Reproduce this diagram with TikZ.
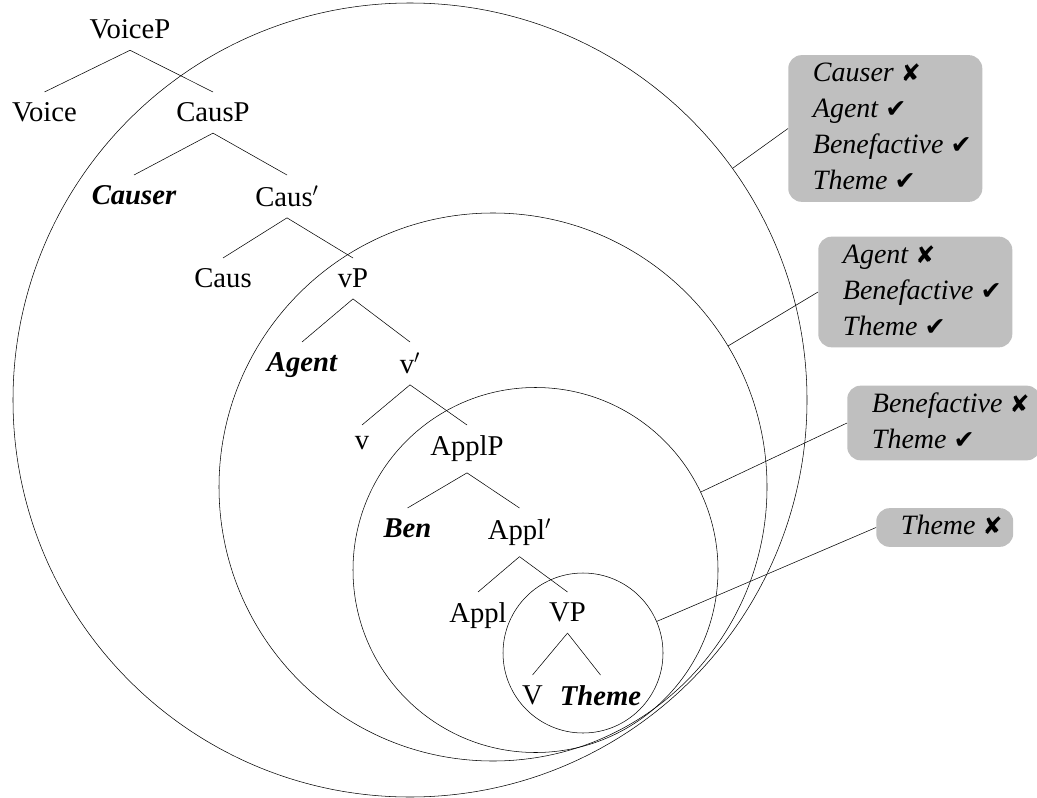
\documentclass[tikz,border=0pt]{standalone}
\usepackage{fontspec}
\setmainfont{Liberation Serif}
\newfontfamily\markfont{DejaVu Sans}
\newcommand{\ok}{{\upshape\markfont\scalebox{0.9}{✔}}}
\newcommand{\bad}{{\upshape\markfont\scalebox{0.85}{✘}}}
\tikzset{
  cat/.style={anchor=north, inner sep=8pt, font=\fontsize{21.5}{24}\selectfont},
  arg/.style={cat, font=\fontsize{21.5}{24}\selectfont\bfseries\itshape},
  ring/.style={draw, circle, inner sep=0pt},
  note/.style={anchor=west, fill=black!25, rounded corners=10pt, inner xsep=8pt, inner ysep=1pt,
    font=\fontsize{21}{27}\selectfont\itshape}
}
\begin{document}
\begin{tikzpicture}[x=0.75pt, y=-0.75pt]
\useasboundingbox (0,0) rectangle (1037,798);
% the tree
\node[cat] (voicep) at (130,9) {VoiceP};
\node[cat] (voice) at (44.5,92) {Voice};
\node[cat] (causp) at (213,92) {CausP};
\node[arg] (causer) at (134,175) {Causer};
\node[cat] (causbar) at (287,175) {Caus$'$};
\node[cat] (caus) at (223,258) {Caus};
\node[cat] (vp) at (353,258) {vP};
\node[arg] (agent) at (302,342) {Agent};
\node[cat] (vbar) at (410,342) {v$'$};
\node[cat] (v) at (362,425) {v};
\node[cat] (applp) at (467,425) {ApplP};
\node[arg] (ben) at (407.5,508) {Ben};
\node[cat] (applbar) at (519.5,508) {Appl$'$};
\node[cat] (appl) at (478,592) {Appl};
\node[cat] (bigvp) at (567.5,592) {VP};
\node[cat] (verb) at (532.5,675) {V};
\node[arg] (theme) at (600.5,675) {Theme};
\foreach \p/\c in {voicep/voice, voicep/causp, causp/causer, causp/causbar,
  causbar/caus, causbar/vp, vp/agent, vp/vbar, vbar/v, vbar/applp,
  applp/ben, applp/applbar, applbar/appl, applbar/bigvp, bigvp/verb, bigvp/theme}
  \draw (\p.south) -- (\c.north);
% nested domains
\node[ring, minimum size=595.5pt] (c1) at (410,400) {};
\node[ring, minimum size=411pt] (c2) at (493,487) {};
\node[ring, minimum size=273.75pt] (c3) at (535.5,570) {};
\node[ring, minimum size=120pt] (c4) at (583,653) {};
% what each domain allows
\node[note] (n1) at (788,128.5) {\begin{tabular}{@{\hspace{10.5pt}}l@{}}Causer \bad\\ Agent \ok\\ Benefactive \ok\\ Theme \ok\end{tabular}};
\node[note] (n2) at (818,292) {\begin{tabular}{@{\hspace{10.5pt}}l@{}}Agent \bad\\ Benefactive \ok\\ Theme \ok\end{tabular}};
\node[note] (n3) at (847,423) {\begin{tabular}{@{\hspace{10.5pt}}l@{}}Benefactive \bad\\ Theme \ok\end{tabular}};
\node[note] (n4) at (876,527.5) {\begin{tabular}{@{\hspace{10.5pt}}l@{}}Theme \bad\end{tabular}};
\draw (n1.west) -- (c1);
\draw (n2.west) -- (c2);
\draw (n3.west) -- (c3);
\draw (n4.west) -- (c4);
\end{tikzpicture}
\end{document}
